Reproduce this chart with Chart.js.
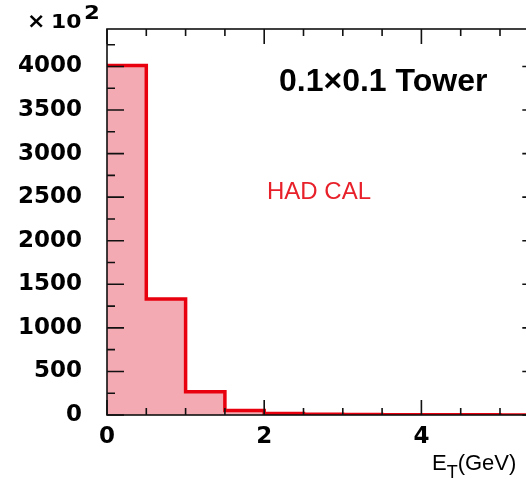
<!DOCTYPE html>
<html>
<head>
<meta charset="utf-8">
<script src="https://cdn.jsdelivr.net/npm/chart.js@4/dist/chart.umd.min.js"></script>
<style>
  html, body { margin: 0; padding: 0; background: #fff; overflow: hidden; }
  #wrap { position: relative; width: 560px; height: 479px; }
</style>
</head>
<body>
<div id="wrap"><canvas id="c" width="560" height="479"></canvas></div>
<script>
// Tower transverse-energy histogram, hadronic calorimeter (bins of 0.5 GeV)
const binEdges = [0, 0.5, 1, 1.5, 2, 2.5, 3, 3.5, 4, 4.5, 5, 5.5];
const counts   = [4010, 1332, 267, 52, 18, 8, 5, 3, 2, 2, 1];   // in units of 10^2
const xTickLabels = [0, 2, 4];
const yTickLabels = [0, 500, 1000, 1500, 2000, 2500, 3000, 3500, 4000];
const xMajorTicks = [0, 2, 4];

const X_MIN = 0, X_MAX = 5.5, Y_MIN = 0, Y_MAX = 4430;
const X_MINOR = 0.5, Y_MINOR = 250, Y_MAJOR = 500;

// step points: each left edge carries its bin's count, last edge closes the final bin
const points = binEdges.map((e, i) => ({ x: e, y: counts[Math.min(i, counts.length - 1)] }));

const tickFont = { family: "'DejaVu Sans', sans-serif", weight: 'bold', size: 23 };
const near = (a, b) => Math.abs(a - b) < 1e-9;

// frame with inward ticks on all four sides
const framePlugin = {
  id: 'frame',
  afterDatasetsDraw(chart) {
    const { ctx, chartArea: a, scales } = chart;
    const xs = scales.x, ys = scales.y;
    ctx.save();
    ctx.strokeStyle = '#111';
    ctx.lineWidth = 1.6;
    ctx.strokeRect(a.left, a.top, a.right - a.left, a.bottom - a.top);
    ctx.beginPath();
    for (let v = Y_MIN; v <= Y_MAX + 1e-9; v += Y_MINOR) {
      const py = ys.getPixelForValue(v);
      const len = (v % Y_MAJOR === 0) ? 17 : 8;
      ctx.moveTo(a.left, py); ctx.lineTo(a.left + len, py);
      ctx.moveTo(a.right, py); ctx.lineTo(a.right - len, py);
    }
    for (let v = X_MIN; v <= X_MAX + 1e-9; v += X_MINOR) {
      const px = xs.getPixelForValue(v);
      const len = xMajorTicks.some(m => near(m, v)) ? 15 : 7;
      ctx.moveTo(px, a.bottom); ctx.lineTo(px, a.bottom - len);
      ctx.moveTo(px, a.top); ctx.lineTo(px, a.top + len);
    }
    ctx.stroke();
    ctx.restore();
  }
};

// scale factor, panel title, detector tag and axis title
const textPlugin = {
  id: 'texts',
  afterDraw(chart) {
    const ctx = chart.ctx;
    ctx.save();
    ctx.fillStyle = '#000';
    ctx.textBaseline = 'alphabetic';
    ctx.textAlign = 'left';

    // "× 10^2" above the y axis
    ctx.font = "bold 22px 'DejaVu Sans', sans-serif";
    ctx.fillText('\u00d7', 27, 28);
    ctx.save();
    ctx.translate(51, 28);
    ctx.scale(1.15, 1);
    ctx.font = "bold 19px 'DejaVu Sans', sans-serif";
    ctx.fillText('10', 0, 0);
    ctx.restore();
    ctx.save();
    ctx.translate(84, 19);
    ctx.scale(1.2, 1);
    ctx.font = "bold 19px 'DejaVu Sans', sans-serif";
    ctx.fillText('2', 0, 0);
    ctx.restore();

    // panel title
    ctx.font = "bold 32px 'Liberation Sans', Arial, sans-serif";
    ctx.fillText('0.1\u00d70.1 Tower', 279, 91);

    // detector tag
    ctx.fillStyle = '#e8202a';
    ctx.font = "24px 'Liberation Sans', Arial, sans-serif";
    ctx.fillText('HAD CAL', 267, 199);

    // x axis title E_T(GeV)
    ctx.fillStyle = '#000';
    ctx.font = "22px 'Liberation Sans', Arial, sans-serif";
    ctx.fillText('E', 432, 470);
    let x = 432 + ctx.measureText('E').width;
    ctx.font = "18px 'Liberation Sans', Arial, sans-serif";
    ctx.fillText('T', x, 478);
    x += ctx.measureText('T').width;
    ctx.font = "22px 'Liberation Sans', Arial, sans-serif";
    ctx.fillText('(GeV)', x, 470);

    ctx.restore();
  }
};

const CANVAS_W = 560;
const AREA_LEFT = 107, AREA_TOP = 29, AREA_BOTTOM = 415, AREA_RIGHT = 539.3;

new Chart(document.getElementById('c'), {
  type: 'line',
  data: {
    datasets: [{
      data: points,
      stepped: 'before',
      borderColor: '#e8000f',
      borderWidth: 3.5,
      backgroundColor: '#f4aab2',
      fill: 'origin',
      pointRadius: 0,
      tension: 0,
      clip: { left: 10, top: 10, right: 10, bottom: 0 }
    }]
  },
  options: {
    responsive: false,
    animation: false,
    events: [],
    layout: { padding: { top: AREA_TOP, right: CANVAS_W - AREA_RIGHT, left: 0, bottom: 0 } },
    plugins: { legend: { display: false }, tooltip: { enabled: false } },
    scales: {
      x: {
        type: 'linear',
        min: X_MIN, max: X_MAX,
        grid: { display: false, drawTicks: false },
        border: { display: false },
        ticks: {
          autoSkip: false, maxRotation: 0, padding: 8,
          color: '#000', font: tickFont,
          callback: v => String(v)
        },
        afterBuildTicks: s => { s.ticks = xTickLabels.map(v => ({ value: v })); },
        afterFit: s => {
          s.height = 479 - AREA_BOTTOM;
          s.paddingLeft = 0; s.paddingRight = 0; s.paddingTop = 0; s.paddingBottom = 0;
        }
      },
      y: {
        type: 'linear',
        min: Y_MIN, max: Y_MAX,
        grid: { display: false, drawTicks: false },
        border: { display: false },
        ticks: {
          autoSkip: false, padding: 25,
          color: '#000', font: tickFont,
          callback: v => String(v)
        },
        afterBuildTicks: s => { s.ticks = yTickLabels.map(v => ({ value: v })); },
        afterFit: s => {
          s.width = AREA_LEFT;
          s.paddingLeft = 0; s.paddingRight = 0; s.paddingTop = 0; s.paddingBottom = 0;
        }
      }
    }
  },
  plugins: [framePlugin, textPlugin]
});
</script>
</body>
</html>
